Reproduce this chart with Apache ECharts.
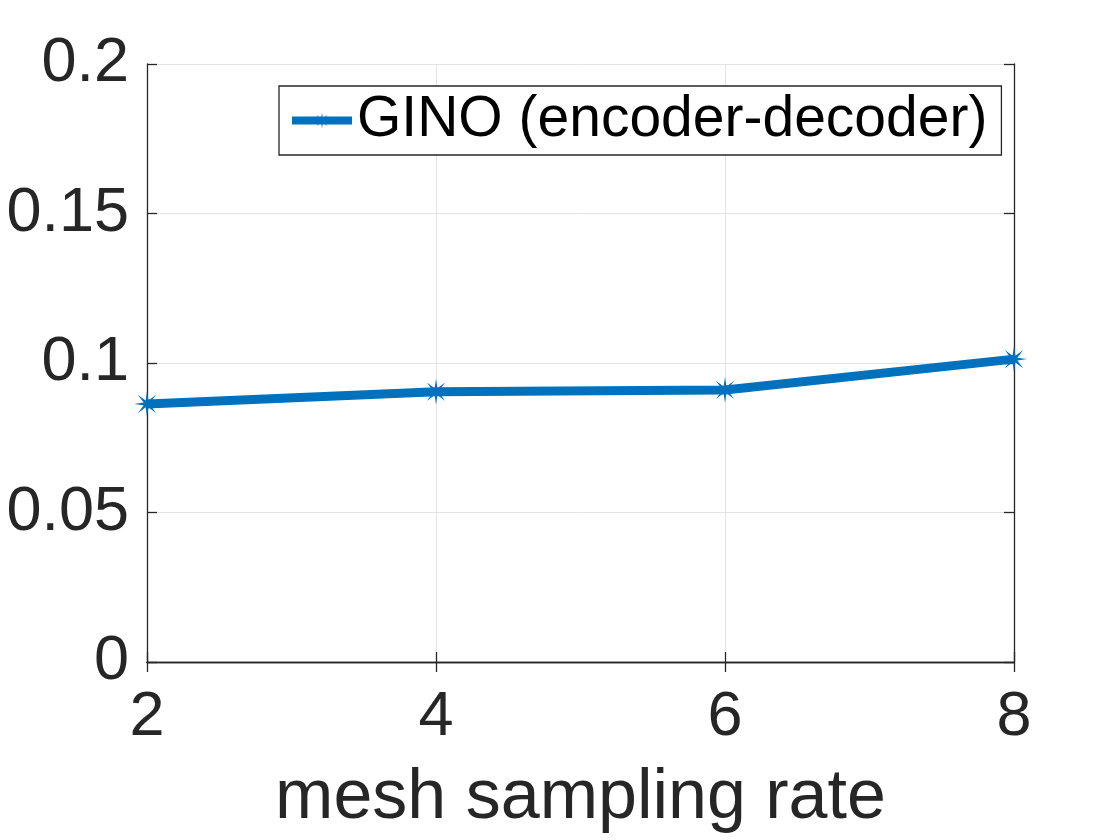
<!DOCTYPE html>
<html>
<head>
<meta charset="utf-8">
<script src="https://cdn.jsdelivr.net/npm/echarts@6/dist/echarts.min.js"></script>
<style>
  html, body { margin: 0; padding: 0; background: #fff; }
  #chart { width: 1120px; height: 840px; }
</style>
</head>
<body>
<div id="chart"></div>
<script>
// mesh sampling rate vs. error
const samplingRates = [2, 4, 6, 8];
const ginoErrors = [0.0863, 0.0904, 0.0910, 0.1013];
const seriesName = 'GINO (encoder-decoder)';

const FONT = "'Liberation Sans', Arial, Helvetica, sans-serif";
const TEXT = '#262626';
const BLUE = '#0072BD';

// asterisk-like marker (8 arms)
const starPath = (() => {
  let d = '';
  for (let i = 0; i < 16; i++) {
    const r = i % 2 === 0 ? 10 : 2.8;
    const a = (i * 22.5 - 90) * Math.PI / 180;
    d += (i === 0 ? 'M' : 'L') + (r * Math.cos(a)).toFixed(2) + ',' + (r * Math.sin(a)).toFixed(2) + ' ';
  }
  return 'path://' + d + 'Z';
})();

const chart = echarts.init(document.getElementById('chart'));

// shared look for the four box sides (ticks point inward)
const boxAxis = {
  axisLine: { show: true, lineStyle: { color: TEXT, width: 1.3 } },
  axisTick: { show: true, inside: true, length: 10, lineStyle: { color: TEXT, width: 1.3 } }
};

const option = {
  animation: false,
  backgroundColor: '#fff',
  textStyle: { fontFamily: FONT },
  grid: { left: 147, right: 106, top: 64, bottom: 178, outerBoundsMode: 'none' },
  legend: {
    data: [seriesName],
    left: 279,
    top: 86,
    orient: 'vertical',
    backgroundColor: '#fff',
    borderColor: TEXT,
    borderWidth: 1.3,
    borderRadius: 0,
    padding: [6, 14, 6, 9],
    itemWidth: 60,
    itemHeight: 20,
    lineStyle: { width: 8 },
    textStyle: { fontSize: 57, color: '#000', fontFamily: FONT }
  },
  xAxis: [
    Object.assign({
      type: 'value',
      min: 2,
      max: 8,
      interval: 2,
      name: 'mesh sampling rate',
      nameLocation: 'middle',
      nameGap: 102,
      nameTextStyle: { fontSize: 70, color: TEXT, fontFamily: FONT },
      axisLabel: { fontSize: 63, color: TEXT, margin: 24, fontFamily: FONT },
      splitLine: { show: true, lineStyle: { color: '#e3e3e3', width: 1 } }
    }, boxAxis),
    Object.assign({
      type: 'value',
      position: 'top',
      min: 2,
      max: 8,
      interval: 2,
      axisLabel: { show: false },
      splitLine: { show: false }
    }, boxAxis)
  ],
  yAxis: [
    Object.assign({
      type: 'value',
      min: 0,
      max: 0.2,
      interval: 0.05,
      axisLabel: { fontSize: 63, color: TEXT, margin: 18, fontFamily: FONT },
      splitLine: { show: true, lineStyle: { color: '#e3e3e3', width: 1 } }
    }, boxAxis),
    Object.assign({
      type: 'value',
      position: 'right',
      min: 0,
      max: 0.2,
      interval: 0.05,
      axisLabel: { show: false },
      splitLine: { show: false }
    }, boxAxis)
  ],
  series: [
    {
      name: seriesName,
      type: 'line',
      data: samplingRates.map((x, i) => [x, ginoErrors[i]]),
      symbol: starPath,
      symbolSize: 26,
      showAllSymbol: true,
      clip: false,
      lineStyle: { color: BLUE, width: 9 },
      itemStyle: { color: BLUE }
    }
  ]
};

chart.setOption(option);
</script>
</body>
</html>
